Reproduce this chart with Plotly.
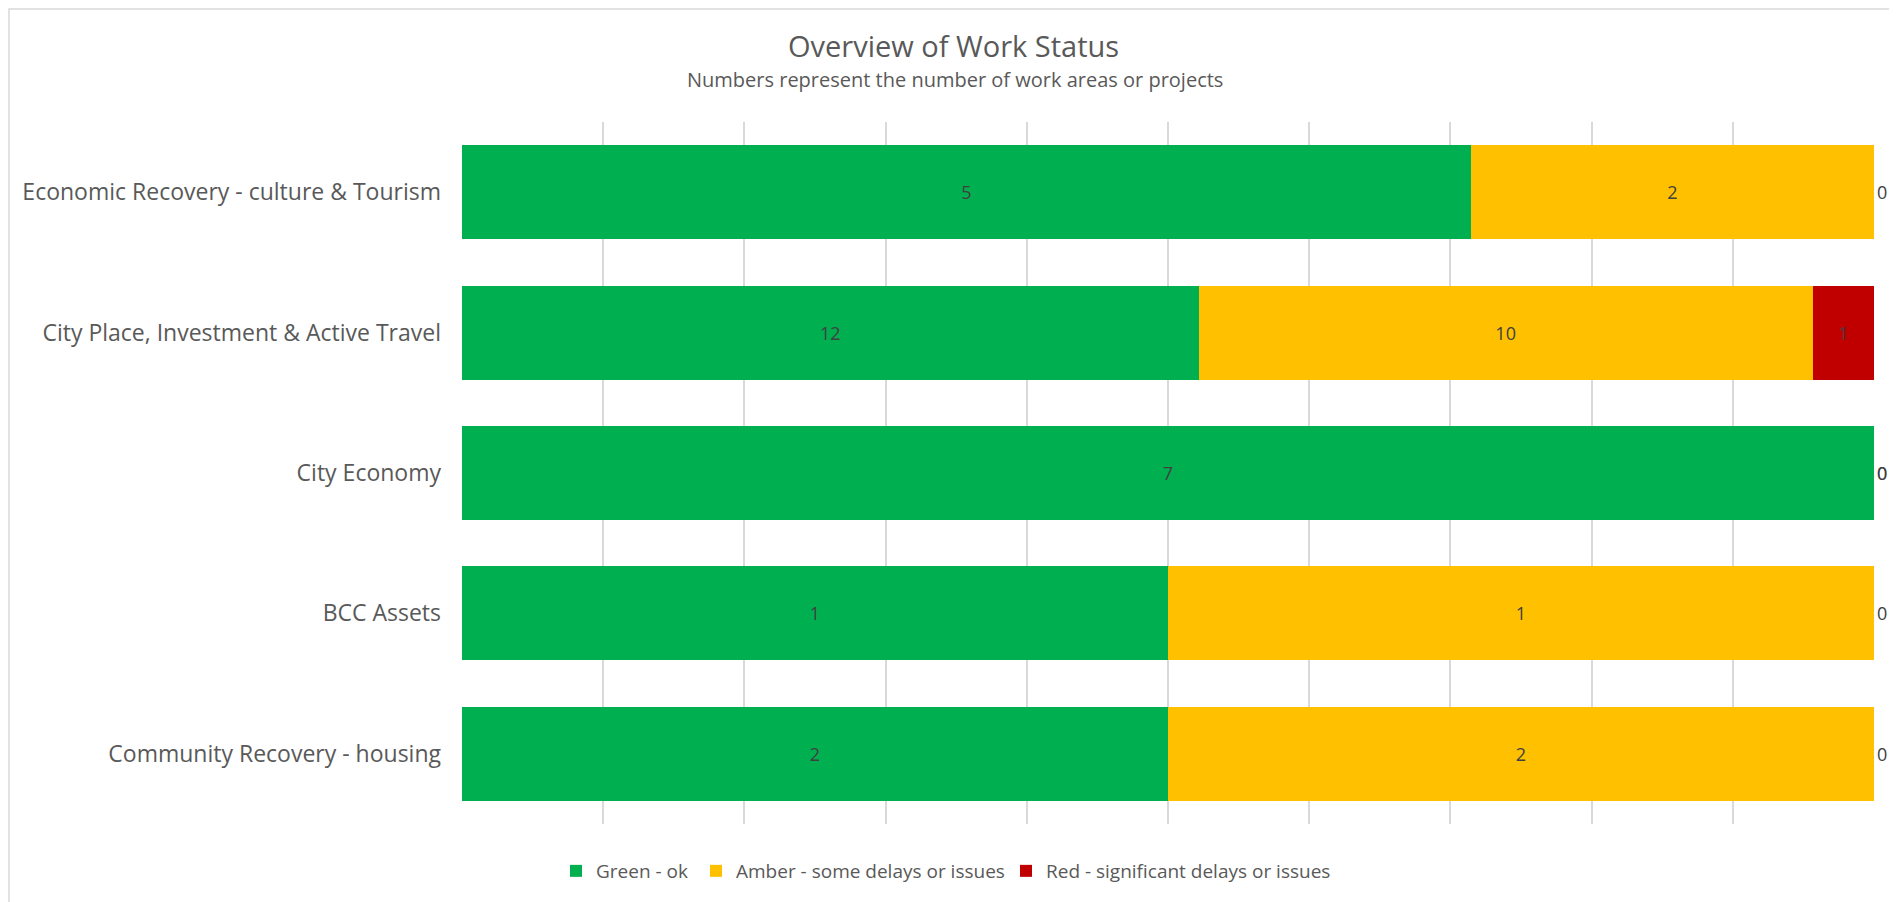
import plotly.graph_objects as go

categories = [
    "Economic Recovery - culture & Tourism",
    "City Place, Investment & Active Travel",
    "City Economy",
    "BCC Assets",
    "Community Recovery - housing",
]
green_vals = [5, 12, 7, 1, 2]
amber_vals = [2, 10, 0, 1, 2]
red_vals = [0, 1, 0, 0, 0]

series_names = ["Green - ok", "Amber - some delays or issues", "Red - significant delays or issues"]
series_colors = ["#00B050", "#FFC000", "#C00000"]

# page has an 8px body margin; work in reference pixel coords minus that offset
OFF = 8
W, H = 1897 - OFF, 902 - OFF
L, R, T, B = 462 - OFF, 1874 - OFF, 122 - OFF, 824 - OFF
pw, ph = R - L, B - T


def px_x(x):
    return (x - OFF - L) / pw


def px_y(y):
    return (B - (y - OFF)) / ph


FONT = "Open Sans"
label_color = "#404040"
text_color = "#595959"

legend_ids = ["legend", "legend2", "legend3"]
legend_text_px = [594, 734, 1044]   # page x where each legend text starts

fig = go.Figure()
for name, vals, col, lg in zip(series_names, [green_vals, amber_vals, red_vals], series_colors, legend_ids):
    fig.add_trace(go.Bar(
        y=categories, x=vals, name=name, orientation="h",
        marker=dict(color=col, line=dict(width=0)),
        text=[str(v) for v in vals],
        textposition=["inside" if v > 0 else "outside" for v in vals],
        insidetextanchor="middle",
        textangle=0,
        constraintext="none",
        cliponaxis=False,
        legend=lg,
        textfont=dict(family=FONT, size=18, color=label_color),
        outsidetextfont=dict(family=FONT, size=18, color=label_color),
        insidetextfont=dict(family=FONT, size=18, color=label_color),
    ))

legend_common = dict(
    orientation="h",
    xanchor="left",
    yanchor="middle",
    font=dict(family=FONT, size=19, color=text_color),
    itemwidth=30,
    bgcolor="rgba(0,0,0,0)",
)

layout_legends = {}
for lg, tx in zip(legend_ids, legend_text_px):
    layout_legends[lg] = dict(legend_common, x=px_x(tx - 38), y=px_y(871))

fig.update_layout(
    barmode="stack",
    barnorm="percent",
    bargap=0.33,
    width=W, height=H,
    margin=dict(l=L, r=W - R, t=T, b=H - B, autoexpand=False),
    paper_bgcolor="white",
    plot_bgcolor="white",
    font=dict(family=FONT, color=text_color),
    uniformtext=dict(minsize=18, mode="show"),
    xaxis=dict(
        range=[0, 100], dtick=10, showticklabels=False,
        showgrid=True, gridcolor="#D9D9D9", gridwidth=1.5,
        zeroline=False, showline=False, fixedrange=True,
    ),
    yaxis=dict(
        autorange="reversed",
        showgrid=False, showline=False, zeroline=False,
        ticks="", ticklabelstandoff=20,
        tickfont=dict(family=FONT, size=23, color=text_color),
    ),
    showlegend=True,
    annotations=[
        dict(text="Overview of Work Status", xref="paper", yref="paper",
             x=px_x(953), y=px_y(45), xanchor="center", yanchor="middle",
             showarrow=False, font=dict(family=FONT, size=29, color=text_color)),
        dict(text="Numbers represent the number of work areas or projects", xref="paper", yref="paper",
             x=px_x(955), y=px_y(79), xanchor="center", yanchor="middle",
             showarrow=False, font=dict(family=FONT, size=20, color=text_color)),
    ],
    shapes=[
        dict(type="rect", xref="paper", yref="paper",
             x0=px_x(OFF + 1), x1=px_x(1897 + 20), y0=px_y(902 + 20), y1=px_y(OFF + 1),
             line=dict(color="#D9D9D9", width=1.5), fillcolor="rgba(0,0,0,0)", layer="below"),
    ],
    **layout_legends,
)

fig.write_html("out.html")
